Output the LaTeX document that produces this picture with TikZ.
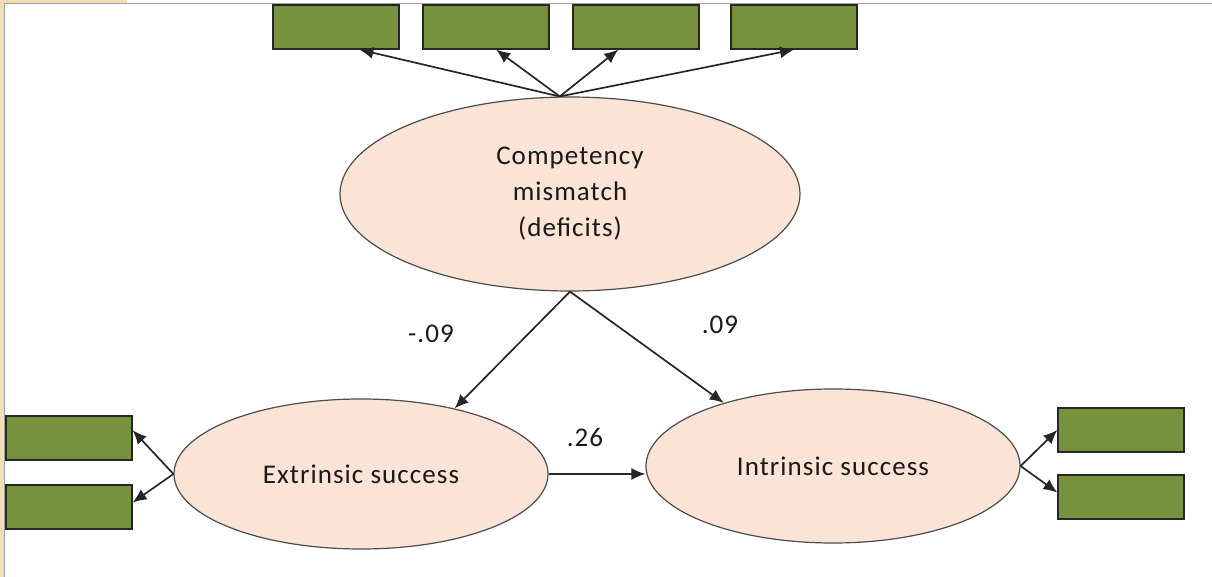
\documentclass[tikz,border=0pt]{standalone}
\usepackage{fontspec}
\newfontfamily\diagfont[LetterSpace=4]{Carlito}
\usetikzlibrary{shapes.geometric,arrows.meta}
\definecolor{boxgreen}{HTML}{76923C}
\definecolor{latentfill}{HTML}{FBE4D5}
\definecolor{framegray}{HTML}{A0A0A0}
\definecolor{frametan}{HTML}{F2DEB0}

\begin{document}
\begin{tikzpicture}[x=0.5pt, y=-0.5pt,
    every node/.style={font=\diagfont\fontsize{13.5}{18}\selectfont, text=black!90},
    indicator/.style={draw=black!85, fill=boxgreen, minimum width=63pt,
      minimum height=22pt, inner sep=0pt, line width=0.6pt},
    latent/.style={ellipse, draw=black!70, fill=latentfill, inner sep=0pt,
      line width=0.6pt, align=center},
    link/.style={-{Latex[length=7pt,width=6pt]}, line width=0.85pt, draw=black!85}]
  \useasboundingbox (0,0) rectangle (1212,577);

  % frame
  \fill[frametan] (0,0) rectangle (4,577);
  \fill[frametan] (0,0) rectangle (127,3);
  \draw[framegray, line width=0.8pt] (4.5,577) -- (4.5,3.5) -- (1212,3.5);

  % latent variables
  \node[latent, minimum width=230pt, minimum height=97pt] (mism) at (570,194)
    {Competency\\mismatch\\(deficits)};
  \node[latent, minimum width=187pt, minimum height=75pt] (extr) at (361,474)
    {Extrinsic success};
  \node[latent, minimum width=187pt, minimum height=77pt] (intr) at (833,466)
    {Intrinsic success};

  % indicators
  \foreach \name/\x in {tb1/336, tb2/486, tb3/636, tb4/794}
    \node[indicator] (\name) at (\x,27) {};
  \node[indicator] (lb1) at (69,438) {};
  \node[indicator] (lb2) at (69,507) {};
  \node[indicator] (rb1) at (1121,430) {};
  \node[indicator] (rb2) at (1121,497) {};

  % loadings
  \foreach \name/\ang in {tb1/-44, tb2/-66, tb3/-128, tb4/-90}
    \draw[link] (mism.96) -- (\name.\ang);
  \draw[link] (extr.west) -- (lb1.7);
  \draw[link] (extr.west) -- (lb2.4);
  \draw[link] (intr.east) -- (rb1.west);
  \draw[link] (intr.east) -- (rb2.176);

  % structural paths
  \draw[link] (mism.south) -- (extr.35);
  \draw[link] (mism.south) -- (intr.150);
  \draw[link] (extr.east) -- (extr.east -| intr.west);
  \node (c1) at (431,334) {-.09};
  \node (c2) at (720,325) {.09};
  \node (c3) at (585,437) {.26};
\end{tikzpicture}
\end{document}
